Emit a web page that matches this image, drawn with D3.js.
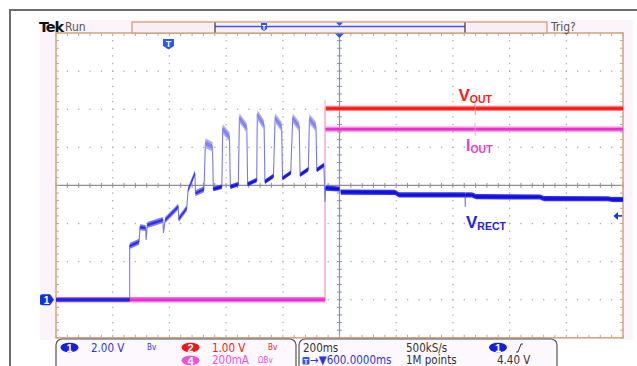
<!DOCTYPE html>
<html><head><meta charset="utf-8">
<script src="https://cdn.jsdelivr.net/npm/d3@7"></script>
<style>
body{margin:0;background:#fff;}
svg{display:block;}
</style></head>
<body>
<svg id="c" width="637" height="366"></svg>
<script>
// ---------------- DATA ----------------
// time in ms relative to screen centre (200 ms/div, 10 div)
const vrectT = [-1000,-740,-740,-707,-704,-684,-682,-678,-623,-621,-615,-569,-567,-539,-534,-510,-508,-478,
  -473,-448,-445,-415, -412,-388,-385,-357, -353,-327,-324,-292, -290,-266,-263,-233,
  -227,-204,-201,-172, -165,-142,-139,-110, -106,-83,-80,-55,
  -51,-49,0,5,196,210,443,443.5,444,467,481,707,721,947,961,1000];
// channel 1 (V_RECT), volts
const vrectV = [0,0,2.82,3.04,3.80,3.76,3.13,3.92,4.18,3.50,4.18,4.88,4.24,4.80,5.76,6.64,5.59,5.80,
  8.21,8.02,5.81,5.93, 8.96,8.54,5.93,6.06, 9.54,9.01,6.06,6.28, 9.70,9.17,6.19,6.49,
  9.54,9.07,6.37,6.67, 9.54,9.07,6.55,6.85, 9.49,9.07,6.81,7.07,
  5.13,5.86,5.81,5.65,5.63,5.50,5.50,4.87,5.50,5.50,5.41,5.39,5.31,5.30,5.26,5.26];
// channel 2 (V_OUT), volts
const voutT = [-1000,-51,-51,477,478,479,480,1000];
const voutV = [0,0,5.02,5.02,5.2,4.85,5.02,5.02];
// channel 4 (I_OUT), mA
const ioutT = [-1000,-51,-51,-49,477,478,479,480,1000];
const ioutMA = [0,0,1050,895,895,930,860,895,895];

const ch1 = {scale:2.00, offsetDiv:-3};   // V/div
const ch2 = {scale:1.00, offsetDiv:-3};   // V/div
const ch4 = {scale:200, offsetDiv:-3};    // mA/div
const trigLevel = 4.40;

const readout1 = [{ch:"1", val:"2.00 V"},{ch:"2", val:"1.00 V"},{ch:"4", val:"200mA"}];
const timebase = "200ms", sampleRate = "500kS/s", recordLen = "1M points", hPos = "600.0000ms";

// ---------------- SCALES ----------------
const svg = d3.select("#c");
const L=56, R=623, T=33, B=337.8;
const x = d3.scaleLinear().domain([-1000,1000]).range([L,R]);
const y = d3.scaleLinear().domain([-4,4]).range([B,T]);
const yc = (v,ch)=> y(v/ch.scale + ch.offsetDiv);

const BLUE="#1f1fe6";
const FN = "'Liberation Sans Narrow','DejaVu Sans Condensed','Liberation Sans',sans-serif";

// frame & panels
svg.append("rect").attr("x",40).attr("y",20).attr("width",593).attr("height",320).attr("fill","#fbf4fa");
svg.append("path").attr("d","M10,366V10H637").attr("fill","none").attr("stroke","#6d6d6d").attr("stroke-width",2);
svg.append("rect").attr("x",L).attr("y",T).attr("width",R-L).attr("height",B-T).attr("fill","#fff");

// grid dots
const g = svg.append("g");
const xMaj = d3.range(-1000,1001,200), yMaj = d3.range(-4,4.01,1);
const xMin = d3.range(-1000,1001,40), yMin = d3.range(-4,4.01,0.2);
xMaj.slice(1,-1).forEach(t=>{ if(t===0) return;
  yMin.slice(1,-1).forEach(d=> g.append("rect").attr("x",x(t)-0.6).attr("y",y(d)-0.6).attr("width",1.3).attr("height",1.3).attr("fill","#aaaaaa"));
});
yMaj.slice(1,-1).forEach(d=>{ if(d===0) return;
  xMin.slice(1,-1).forEach(t=> g.append("rect").attr("x",x(t)-0.6).attr("y",y(d)-0.6).attr("width",1.3).attr("height",1.3).attr("fill","#aaaaaa"));
});
// center cross
g.append("line").attr("x1",L).attr("x2",R).attr("y1",y(0)).attr("y2",y(0)).attr("stroke","#8e8e98").attr("stroke-width",1.3);
g.append("line").attr("x1",x(0)).attr("x2",x(0)).attr("y1",T).attr("y2",B).attr("stroke","#8890b8").attr("stroke-width",1.2);
xMin.forEach(t=> g.append("line").attr("x1",x(t)).attr("x2",x(t)).attr("y1",y(0)-2.5).attr("y2",y(0)+2.5).attr("stroke","#8e8e98"));
yMin.forEach(d=> g.append("line").attr("x1",x(0)-2.5).attr("x2",x(0)+2.5).attr("y1",y(d)).attr("y2",y(d)).attr("stroke","#8890b8"));
// border ticks
xMin.forEach(t=>{ g.append("line").attr("x1",x(t)).attr("x2",x(t)).attr("y1",T).attr("y2",T+3).attr("stroke","#aaa");
  g.append("line").attr("x1",x(t)).attr("x2",x(t)).attr("y1",B).attr("y2",B-3).attr("stroke","#aaa");});
yMin.forEach(d=>{ g.append("line").attr("x1",L).attr("x2",L+3).attr("y1",y(d)).attr("y2",y(d)).attr("stroke","#aaa");
  g.append("line").attr("x1",R).attr("x2",R-3).attr("y1",y(d)).attr("y2",y(d)).attr("stroke","#aaa");});
svg.append("rect").attr("x",L).attr("y",T).attr("width",R-L).attr("height",B-T).attr("fill","none").attr("stroke","#d2a27a").attr("stroke-width",1.5);

// ---------------- TRACES ----------------
const tr = svg.append("g");
const ln = d3.line().x(d=>d[0]).y(d=>d[1]);
// a horizontal-ish band (vertical ends) between two screen points
function bandSeg(a,b,h,col,op){
  const ar = d3.area().x(d=>d[0]).y0(d=>d[1]-h).y1(d=>d[1]+h);
  tr.append("path").attr("d",ar([a,b])).attr("fill",col).attr("opacity",op==null?1:op);
}
function simple(ts, vs, ch, edgeCol, outer, inner){
  const pts = ts.map((t,i)=>[x(t), yc(vs[i],ch)]);
  tr.append("path").attr("d",ln(pts)).attr("fill","none").attr("stroke",edgeCol).attr("stroke-width",1.1);
  for(let i=0;i<pts.length-1;i++){
    if(Math.abs(pts[i+1][0]-pts[i][0])<2.5) continue;
    bandSeg(pts[i],pts[i+1],2.6,outer,0.8);
    bandSeg(pts[i],pts[i+1],1.2,inner);
  }
}
simple(voutT, voutV, ch2, "#ff9a9a", "#ff5a5a", "#ff1010");
simple(ioutT, ioutMA, ch4, "#f6b4ee", "#f270e2", "#ee2cd4");

// V_RECT
(function(){
  const pts = vrectT.map((t,i)=>[x(t), yc(vrectV[i],ch1), vrectV[i], t]);
  tr.append("path").attr("d",ln(pts)).attr("fill","none").attr("stroke","#7878f2").attr("stroke-width",1.1);
  for(let i=0;i<pts.length-1;i++){
    const a=pts[i], b=pts[i+1];
    if(Math.abs(b[0]-a[0])<2.5) continue;
    if(a[2]>7.5){ bandSeg(a,b,4.8,"#a8a8f6",0.95); bandSeg(a,b,2.2,"#7e7ef0",0.9); }
    else if(a[2]<0.5){ bandSeg(a,b,2,"#3a3aee"); bandSeg(a,b,1,BLUE); }
    else if(a[3]<-500){ bandSeg(a,b,3,"#6c6cf2",0.9); bandSeg(a,b,1.2,"#3030ea"); }
    else if(a[3]>-52){ bandSeg(a,b,2.6,"#3232ee"); bandSeg(a,b,1.3,"#1010dc"); }
    else { bandSeg(a,b,2.2,"#3a3aee"); bandSeg(a,b,1.1,"#1515e0"); }
  }
})();

// ---------------- LABELS ----------------
function sublabel(px,py,main,sub,col,fs,ss){
  const t=svg.append("text").attr("x",px).attr("y",py).attr("fill",col).attr("font-family","'Liberation Sans',Arial,sans-serif").attr("font-weight","bold").attr("font-size",fs);
  t.append("tspan").text(main);
  t.append("tspan").attr("font-size",ss).attr("dy",2).text(sub);
}
sublabel(458.5,100.5,"V","OUT","#ff1a1a",17,10.5);
sublabel(466,150.5,"I","OUT","#e83dd0",16,10.5);
sublabel(466,228,"V","RECT","#2323d8",17,10.5);

// ---------------- TOP BAR ----------------
svg.append("text").attr("x",39).attr("y",32).attr("font-family","'DejaVu Sans',Arial,sans-serif").attr("font-weight","bold").attr("font-size",14.5).attr("letter-spacing",-1.2).attr("fill","#111").text("Tek");
svg.append("text").attr("x",65).attr("y",31).attr("font-family",FN).attr("font-size",12).attr("fill","#555").text("Run");
svg.append("rect").attr("x",132).attr("y",22).attr("width",415).attr("height",11).attr("fill","#f8eef4").attr("stroke","#c89a78").attr("stroke-width",1.2);
svg.append("line").attr("x1",215).attr("x2",465).attr("y1",26.5).attr("y2",26.5).attr("stroke","#3a5cf0").attr("stroke-width",1.5);
[215,465].forEach(px=>svg.append("line").attr("x1",px).attr("x2",px).attr("y1",22.5).attr("y2",32.5).attr("stroke","#334").attr("stroke-width",1.2));
svg.append("text").attr("x",551).attr("y",31).attr("font-family",FN).attr("font-size",12).attr("fill","#555").text("Trig?");
// small T marker on bar
svg.append("path").attr("d","M261,23h6v6l-3,2l-3,-2z").attr("fill","#2a5ae8");
svg.append("text").attr("x",264).attr("y",29.5).attr("text-anchor","middle").attr("font-size",7).attr("font-weight","bold").attr("font-family","sans-serif").attr("fill","#fff").text("T");
// trigger position triangles
svg.append("path").attr("d",`M${x(0)-3.5},22.5h7l-3.5,3.5z`).attr("fill","#2a5ae8");
svg.append("path").attr("d",`M${x(0)-4.5},33.5h9l-4.5,4.5z`).attr("fill","#2a5ae8");
// T marker in graticule
svg.append("path").attr("d","M163,39h11v7l-5.5,3.5l-5.5,-3.5z").attr("fill","#2a5ae8");
svg.append("text").attr("x",168.5).attr("y",46.5).attr("text-anchor","middle").attr("font-size",9).attr("font-weight","bold").attr("font-family","sans-serif").attr("fill","#fff").text("T");
// ch1 ground marker
const gy = yc(0,ch1);
svg.append("path").attr("d",`M42,${gy-5.5}h8l4,5.5l-4,5.5h-8a2,2 0 0 1 -2,-2v-7a2,2 0 0 1 2,-2z`).attr("fill","#1530e0");
svg.append("text").attr("x",46.5).attr("y",gy+4).attr("text-anchor","middle").attr("font-size",10).attr("font-weight","bold").attr("font-family","sans-serif").attr("fill","#fff").text("1");
// trigger level arrow
const ty = yc(trigLevel,ch1);
svg.append("line").attr("x1",617).attr("x2",622).attr("y1",ty).attr("y2",ty).attr("stroke","#1530e0").attr("stroke-width",1.5);
svg.append("path").attr("d",`M613.5,${ty}l4.5,-4v8z`).attr("fill","#1530e0");

// ---------------- READOUT ----------------
function box(x0,x1){
  svg.append("path").attr("d",`M${x0},372V345a6,6 0 0 1 6,-6H${x1-6}a6,6 0 0 1 6,6V372`).attr("fill","#fdf8fd").attr("stroke","#555").attr("stroke-width",1.2);
}
box(56,296); box(299,557);
function badge(cx,cy,label,col){
  svg.append("ellipse").attr("cx",cx).attr("cy",cy).attr("rx",9).attr("ry",4.8).attr("fill",col);
  svg.append("text").attr("x",cx).attr("y",cy+4).attr("text-anchor","middle").attr("font-size",11).attr("font-weight","bold").attr("font-family","'Liberation Sans',sans-serif").attr("fill","#fff").text(label);
}
const R1=351.5, R2=364;
function txt(px,py,s,col,fs){
  return svg.append("text").attr("x",px).attr("y",py).attr("font-family",FN).attr("font-size",fs||11.5).attr("fill",col).text(s);
}
badge(69.5,347.5,readout1[0].ch,"#1220d8"); txt(91,R1,readout1[0].val,"#2a36e0");
txt(147,350,"Bv","#2a36e0",8);
badge(190.5,347.5,readout1[1].ch,"#f01818"); txt(212,R1,readout1[1].val,"#f02020");
txt(268,350,"Bv","#f02020",8);
badge(190.5,360.5,readout1[2].ch,"#f050e0"); txt(212,R2,readout1[2].val,"#f050e0");
txt(258,363,"ΩBv","#f050e0",8);

txt(303,R1,timebase,"#333");
svg.append("rect").attr("x",302.5).attr("y",357).attr("width",7).attr("height",7.5).attr("rx",1).attr("fill","#2a5ae8");
svg.append("text").attr("x",306).attr("y",363.5).attr("text-anchor","middle").attr("font-size",7).attr("font-weight","bold").attr("font-family","sans-serif").attr("fill","#fff").text("T");
txt(310,R2,"→▼"+hPos,"#2a36e0");
txt(406,R1,sampleRate,"#333");
txt(406,R2,recordLen,"#333");
badge(498,347.5,"1","#1220d8");
svg.append("path").attr("d","M516,352h2l3,-8h2").attr("fill","none").attr("stroke","#333").attr("stroke-width",1);
txt(497,R2,trigLevel.toFixed(2)+" V","#333");
</script>
</body></html>
